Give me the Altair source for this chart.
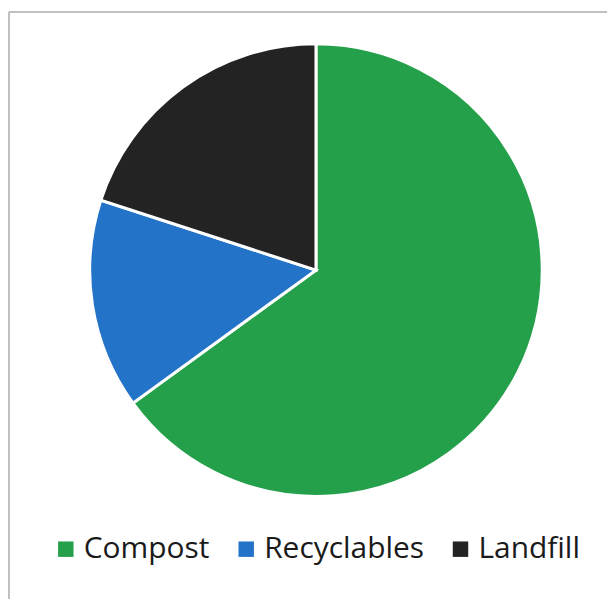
import altair as alt
import pandas as pd

categories = ["Compost", "Recyclables", "Landfill"]
values = [65, 15, 20]
order = [1, 2, 3]
colors = ["#25a04a", "#2373c8", "#232323"]

df = pd.DataFrame({"category": categories, "value": values, "order": order})

pie = alt.Chart(df).mark_arc(
    outerRadius=227, stroke="white", strokeWidth=3
).encode(
    x=alt.value(308),
    y=alt.value(262),
    theta=alt.Theta("value:Q", stack=True),
    order=alt.Order("order:Q"),
    color=alt.Color(
        "category:N",
        scale=alt.Scale(domain=categories, range=colors),
        sort=categories,
        legend=alt.Legend(
            title=None,
            orient="none",
            legendX=42,
            legendY=527,
            direction="horizontal",
            symbolType="square",
            symbolSize=240,
            symbolStrokeWidth=0,
            labelFont="Open Sans",
            labelFontSize=30,
            labelColor="#1a1a1a",
            labelLimit=300,
            columnPadding=21,
            symbolOffset=0,
            labelOffset=3,
        ),
    ),
)

border_top = alt.Chart(df).mark_rule(color="#b8b8b8", strokeWidth=1).encode(
    x=alt.value(0), x2=alt.value(600), y=alt.value(3)
)
border_left = alt.Chart(df).mark_rule(color="#b8b8b8", strokeWidth=1).encode(
    x=alt.value(0), y=alt.value(3), y2=alt.value(592)
)

chart = alt.layer(border_top, border_left, pie).properties(
    width=590, height=580, padding=0
).configure_view(stroke=None)

chart.save("out.html", embed_options={"renderer": "svg", "actions": False})
